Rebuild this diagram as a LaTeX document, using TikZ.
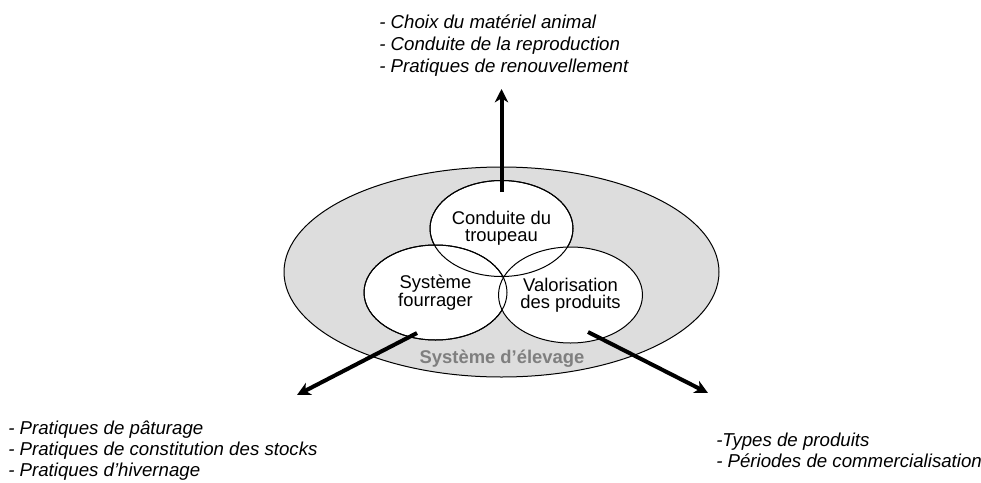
\documentclass[tikz,border=0pt]{standalone}
\usepackage{fontspec}
\setmainfont{Liberation Sans}
\usepackage{xcolor}
\definecolor{elevageGray}{HTML}{DDDDDD}
\definecolor{labelGray}{HTML}{7F7F7F}
\usetikzlibrary{arrows.meta, positioning, shapes.geometric}

\begin{document}
\begin{tikzpicture}[
		x=0.75pt, y=-0.75pt,
		zone/.style={
			ellipse,
			draw,
			line width=0.75pt,
			inner sep=0pt,
			align=center,
			font=\fontsize{13.8}{13}\selectfont
		},
		practice/.style={
			anchor=base west,
			inner sep=0pt,
			align=left,
			font=\fontsize{14}{15.5}\selectfont\itshape
		},
		arrow/.style={-{Stealth[length=10pt, width=10pt, inset=3pt]}, line width=3pt}
		]
		\useasboundingbox (0,0) rectangle (981,482);
		
		% systeme d'elevage
		\node[zone, fill=elevageGray, minimum width=326.25pt, minimum height=157.5pt] (elevage) at (501.5,272) {};
		
		% three sub-systems: fill first, outlines after
		\node[zone, fill=white, minimum width=107.25pt, minimum height=72pt] (troupeau) at (501.5,228.5) {Conduite du\\troupeau};
		\node[zone, fill=white, minimum width=107.25pt, minimum height=71.25pt] (fourrager) at (435.5,292.5) {Système\\fourrager};
		\node[zone, fill=white, minimum width=108pt, minimum height=72pt] (produits) at (570.5,295) {Valorisation\\des produits};
		\draw[line width=0.75pt] (troupeau.center) ellipse [x radius=71.5, y radius=48];
		\draw[line width=0.75pt] (fourrager.center) ellipse [x radius=71.5, y radius=47.5];
		
		\node[font=\fontsize{13.8}{14}\selectfont\bfseries, text=labelGray, inner sep=0pt] (titre) at (502,359) {Système d’élevage};
		
		% arrows
		\coordinate (upTail) at (501.5,192);
		\coordinate (upTip) at (501.5,89);
		\coordinate (leftTail) at (417,333);
		\coordinate (leftTip) at (297,395);
		\coordinate (rightTail) at (588,332);
		\coordinate (rightTip) at (708,393);
		\draw[arrow] (upTail) -- (upTip);
		\draw[arrow] (leftTail) -- (leftTip);
		\draw[arrow] (rightTail) -- (rightTip);
		
		% pratiques (base = last line)
		\node[practice, font=\fontsize{14}{16.5}\selectfont\itshape] (animal) at (379,72) {- Choix du matériel animal\\- Conduite de la reproduction\\- Pratiques de renouvellement};
		\node[practice] (paturage) at (8,476) {- Pratiques de pâturage\\- Pratiques de constitution des stocks\\- Pratiques d’hivernage};
		\node[practice] (commerce) at (716,467) {-Types de produits\\- Périodes de commercialisation};
		
	\end{tikzpicture}
\end{document}
